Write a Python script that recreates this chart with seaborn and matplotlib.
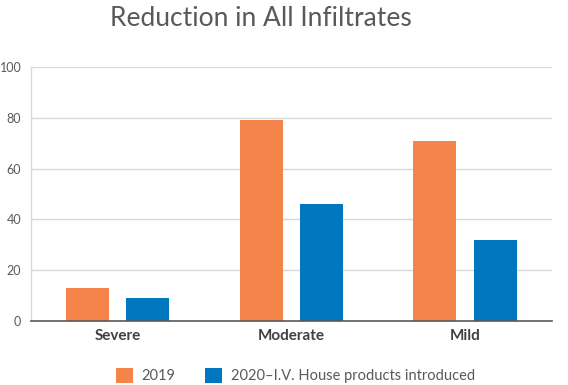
import matplotlib
matplotlib.use("Agg")
import matplotlib.pyplot as plt
import seaborn as sns
import pandas as pd
from matplotlib.patches import Patch

categories = ["Severe", "Moderate", "Mild"]
series_names = ["2019", "2020\u2013I.V. House products introduced"]
values_2019 = [13, 79, 71]
values_2020 = [9, 46, 32]
y_ticks = [0, 20, 40, 60, 80, 100]

colors = ["#F4844A", "#0077BE"]
text_gray = "#595959"

df = pd.DataFrame({
    "category": categories * 2,
    "series": [series_names[0]] * 3 + [series_names[1]] * 3,
    "value": values_2019 + values_2020,
})

sns.set_theme(style="white")
plt.rcParams["font.family"] = ["Lato", "DejaVu Sans"]

fig = plt.figure(figsize=(5.68, 3.85), dpi=100)
ax = fig.add_axes([0.0546, 0.166, 0.917, 0.660])

sns.barplot(data=df, x="category", y="value", hue="series", order=categories,
            hue_order=series_names, palette=colors, width=0.695, gap=0.287,
            saturation=1, edgecolor="none", linewidth=0, ax=ax, legend=False)

ax.set_xlim(-0.5, 2.5)
ax.set_ylim(0, 100)
ax.set_yticks(y_ticks)
ax.yaxis.grid(True, color="#D9D9D9", linewidth=1)
ax.set_axisbelow(True)
ax.set_xlabel("")
ax.set_ylabel("")

for side in ["top", "right"]:
    ax.spines[side].set_visible(False)
ax.spines["left"].set_color("#D9D9D9")
ax.spines["left"].set_linewidth(1)
ax.spines["bottom"].set_color("#595959")
ax.spines["bottom"].set_linewidth(1.2)

ax.tick_params(axis="y", length=0, labelsize=9, labelcolor=text_gray, pad=7)
ax.tick_params(axis="x", length=0, labelsize=11, labelcolor="#404040", pad=6)
for lbl in ax.get_xticklabels():
    lbl.set_fontweight("bold")

fig.suptitle("Reduction in All Infiltrates", x=0.46, y=0.985, fontsize=19,
             color=text_gray, va="top")

handles = [Patch(facecolor=c, edgecolor="none") for c in colors]
fig.legend(handles, series_names, loc="center", bbox_to_anchor=(0.52, 0.024),
           ncol=2, frameon=False, fontsize=10.5, handlelength=1.2, handleheight=1.2,
           handletextpad=0.6, columnspacing=2.0, labelcolor=text_gray)

fig.savefig("out.png", dpi=100)
